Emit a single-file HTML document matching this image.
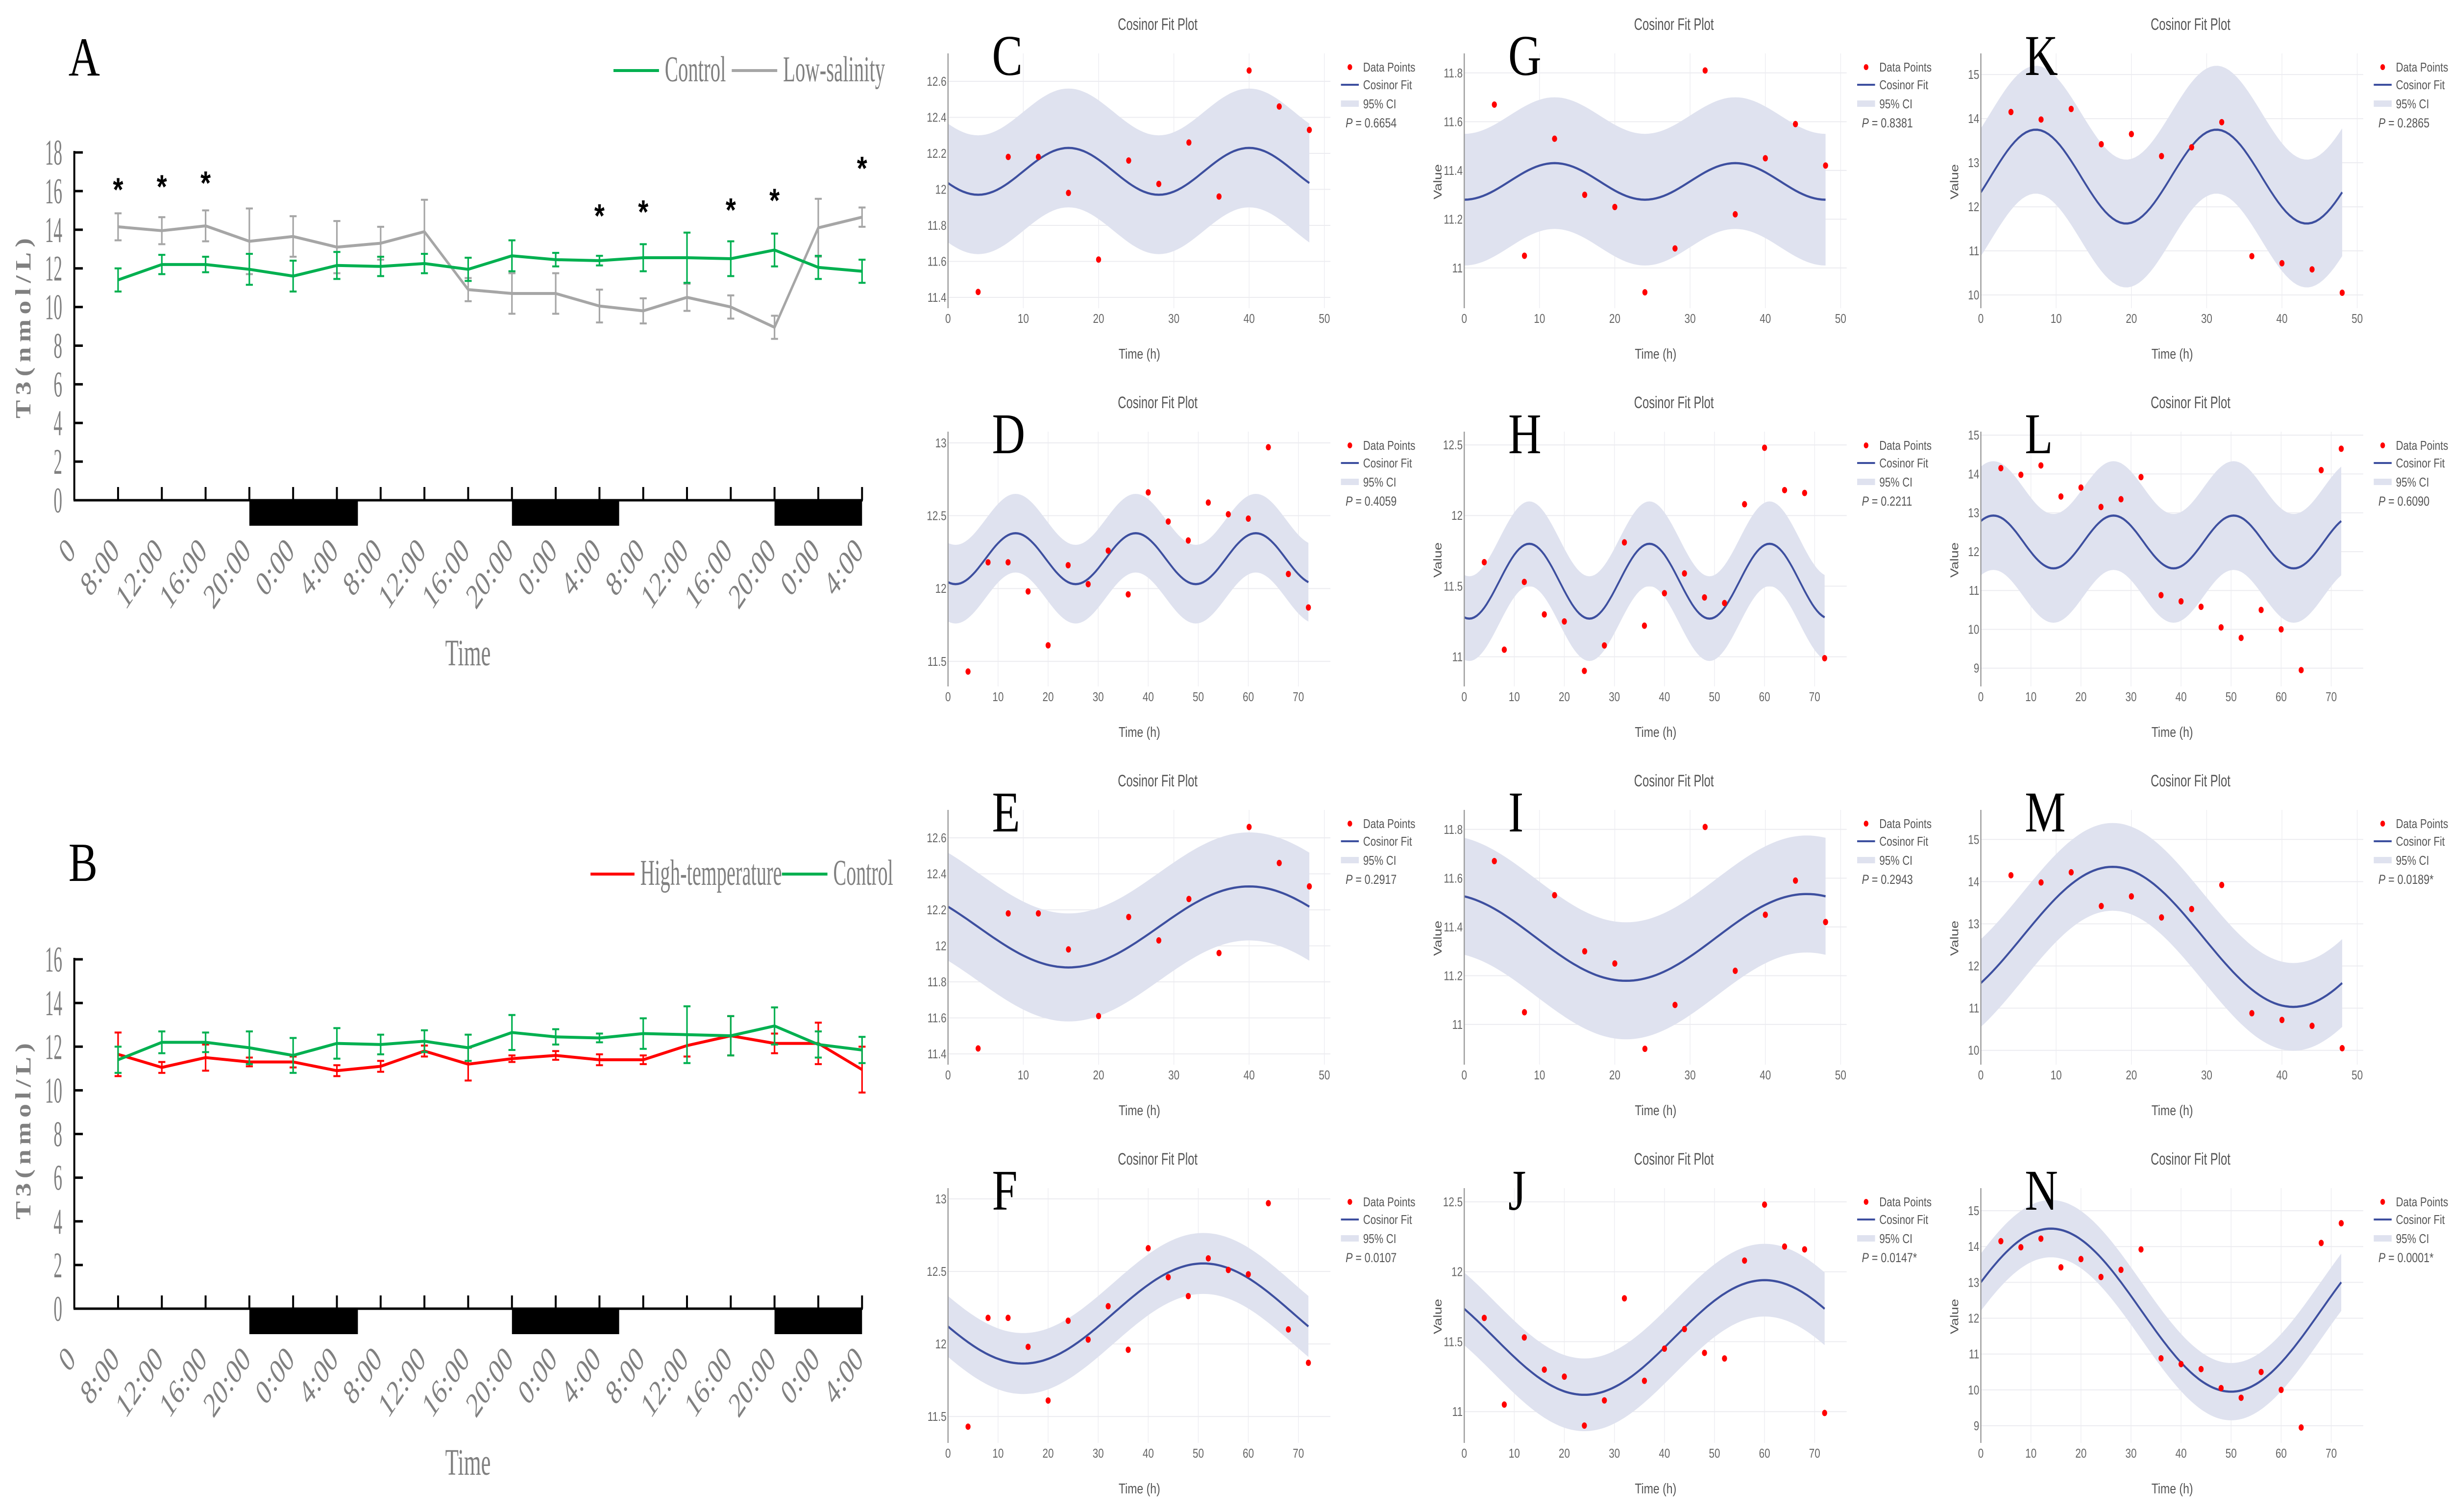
<!DOCTYPE html>
<html><head><meta charset="utf-8"><title>T3 rhythm figure</title>
<style>
html,body{margin:0;padding:0;background:#fff;overflow:hidden;width:100%;height:100%;}
svg{display:block;width:100vw;height:100vh;}
</style></head>
<body>
<svg id="fig" xmlns="http://www.w3.org/2000/svg" viewBox="0 0 6298 3086" preserveAspectRatio="none">
<rect x="0" y="0" width="6298" height="3086" fill="#fff"/>
</svg>
<script>
// ===== Panel A / B data =====
const timeLabels = ["0","8:00","12:00","16:00","20:00","0:00","4:00","8:00","12:00","16:00","20:00","0:00","4:00","8:00","12:00","16:00","20:00","0:00","4:00"];
const aControl = [11.4,12.2,12.2,11.95,11.6,12.15,12.1,12.25,11.95,12.65,12.45,12.4,12.55,12.55,12.5,12.95,12.05,11.85];
const aControlErr = [0.6,0.5,0.4,0.8,0.8,0.7,0.5,0.5,0.6,0.8,0.35,0.25,0.7,1.3,0.9,0.85,0.6,0.6];
const aLow = [14.15,13.95,14.2,13.4,13.65,13.1,13.3,13.9,10.9,10.7,10.7,10.05,9.8,10.5,10.0,8.95,14.1,14.65];
const aLowErr = [0.7,0.7,0.8,1.7,1.05,1.35,0.85,1.65,0.6,1.05,1.05,0.85,0.65,0.7,0.6,0.6,1.5,0.5];
const aStarIdx = [0,1,2,11,12,14,15,17];
const aStarY = [16.25,16.4,16.6,14.9,15.1,15.2,15.7,17.35];
const bHigh = [11.65,11.05,11.5,11.3,11.3,10.9,11.1,11.8,11.2,11.45,11.6,11.4,11.4,12.05,12.5,12.15,12.15,10.95];
const bHighErr = [1.0,0.25,0.6,0.2,0.25,0.25,0.25,0.25,0.75,0.15,0.2,0.25,0.2,0.5,0.9,0.45,0.95,1.05];
const bControl = [11.4,12.2,12.2,11.95,11.6,12.15,12.1,12.25,11.95,12.65,12.45,12.4,12.6,12.55,12.5,12.95,12.1,11.85];
const bControlErr = [0.6,0.5,0.45,0.75,0.8,0.7,0.45,0.5,0.6,0.8,0.35,0.2,0.7,1.3,0.9,0.85,0.6,0.6];
const nightStart = [4,10,16];
const nightEnd = [6.48,12.45,18];

// ===== Cosinor panel data =====
const t48 = [4,8,12,16,20,24,28,32,36,40,44,48];
const t72 = [4,8,12,16,20,24,28,32,36,40,44,48,52,56,60,64,68,72];
const cPoints = [11.43,12.18,12.18,11.98,11.61,12.16,12.03,12.26,11.96,12.66,12.46,12.33];
const dPoints = [11.43,12.18,12.18,11.98,11.61,12.16,12.03,12.26,11.96,12.66,12.46,12.33,12.59,12.51,12.48,12.97,12.10,11.87];
const ePoints = [11.43,12.18,12.18,11.98,11.61,12.16,12.03,12.26,11.96,12.66,12.46,12.33];
const fPoints = [11.43,12.18,12.18,11.98,11.61,12.16,12.03,12.26,11.96,12.66,12.46,12.33,12.59,12.51,12.48,12.97,12.10,11.87];
const gPoints = [11.67,11.05,11.53,11.30,11.25,10.90,11.08,11.81,11.22,11.45,11.59,11.42];
const hPoints = [11.67,11.05,11.53,11.30,11.25,10.90,11.08,11.81,11.22,11.45,11.59,11.42,11.38,12.08,12.48,12.18,12.16,10.99];
const iPoints = [11.67,11.05,11.53,11.30,11.25,10.90,11.08,11.81,11.22,11.45,11.59,11.42];
const jPoints = [11.67,11.05,11.53,11.30,11.25,10.90,11.08,11.81,11.22,11.45,11.59,11.42,11.38,12.08,12.48,12.18,12.16,10.99];
const kPoints = [14.15,13.98,14.22,13.42,13.65,13.15,13.35,13.92,10.88,10.72,10.58,10.05];
const lPoints = [14.15,13.98,14.22,13.42,13.65,13.15,13.35,13.92,10.88,10.72,10.58,10.05,9.78,10.50,10.00,8.95,14.10,14.65];
const mPoints = [14.15,13.98,14.22,13.42,13.65,13.15,13.35,13.92,10.88,10.72,10.58,10.05];
const nPoints = [14.15,13.98,14.22,13.42,13.65,13.15,13.35,13.92,10.88,10.72,10.58,10.05,9.78,10.50,10.00,8.95,14.10,14.65];
const panelIds = ["C","D","E","F","G","H","I","J","K","L","M","N"];
const panelPoints = [cPoints,dPoints,ePoints,fPoints,gPoints,hPoints,iPoints,jPoints,kPoints,lPoints,mPoints,nPoints];
const fitMesor = [12.1,12.205,12.105,12.21,11.355,11.535,11.357,11.53,12.685,12.25,12.69,12.225];
const fitAmp = [0.13,0.175,0.225,0.345,0.075,0.265,0.178,0.41,1.065,0.68,1.66,2.275];
const fitPeak = [16,13.5,40,51,12,13,45.5,60,7.3,2.5,17.5,14];
const fitPeriod = [24,24,48,72,24,24,48,72,24,24,48,72];
const ciHalf = [0.33,0.27,0.3,0.21,0.27,0.3,0.24,0.26,1.45,1.4,1.04,0.8];
const yMin = [11.34,11.328,11.34,11.318,10.835,10.79,10.835,10.776,9.7,8.53,9.66,8.52];
const yMax = [12.755,13.077,12.755,13.074,11.88,12.594,11.88,12.598,15.48,15.09,15.70,15.63];
const yTicksSmall = [11.4,11.6,11.8,12,12.2,12.4,12.6];
const yTicksHalf = [11.5,12,12.5,13];
const yTicksG = [11,11.2,11.4,11.6,11.8];
const yTicksH = [11,11.5,12,12.5];
const yTicksK = [10,11,12,13,14,15];
const yTicksL = [9,10,11,12,13,14,15];
const panelYTicks = [yTicksSmall,yTicksHalf,yTicksSmall,yTicksHalf,yTicksG,yTicksH,yTicksG,yTicksH,yTicksK,yTicksL,yTicksK,yTicksL];
const pValues = ["0.6654","0.4059","0.2917","0.0107","0.8381","0.2211","0.2943","0.0147*","0.2865","0.6090","0.0189*","0.0001*"];
const xTicks48 = [0,10,20,30,40,50];
const xTicks72 = [0,10,20,30,40,50,60,70];

const NS = "http://www.w3.org/2000/svg";
const svg = document.getElementById("fig");
function mk(tag, attrs, parent) {
  const e = document.createElementNS(NS, tag);
  for (const k in attrs) e.setAttribute(k, attrs[k]);
  (parent || svg).appendChild(e);
  return e;
}
function txt(str, attrs, parent) {
  const e = mk("text", attrs, parent);
  e.textContent = str;
  return e;
}
const SERIF = "'Liberation Serif', serif";
const SANS = "'Liberation Sans', sans-serif";

// ===== line-chart panels A & B =====
function linePanel(cfg) {
  const g = mk("g", {});
  
  
  const ax = 191, step = 112.5;
  const xOf = i => ax + i * step;
  const yOf = v => cfg.y0 - v * cfg.unit;
  const yTopV = cfg.ymax;
  let el = txt(cfg.letter, {x:176, y:cfg.letterY, "font-family":SERIF, "font-size":112, fill:"#000"}, g);
  
  
  for (let k = 0; k < nightStart.length; k++) {
    el = mk("rect", {x:xOf(nightStart[k]), y:cfg.y0 + 2, width:xOf(nightEnd[k]) - xOf(nightStart[k]), height:50, fill:"#000"}, g);
    
    
  }
  el = mk("line", {x1:ax, y1:yOf(yTopV) - 3, x2:ax, y2:cfg.y0, stroke:"#000", "stroke-width":5}, g);
  
  
  el = mk("line", {x1:ax - 2, y1:cfg.y0, x2:xOf(18) + 2, y2:cfg.y0, stroke:"#000", "stroke-width":5}, g);
  
  
  for (let v = 0; v <= yTopV; v += 2) {
    el = mk("line", {x1:ax, y1:yOf(v), x2:ax + 22, y2:yOf(v), stroke:"#000", "stroke-width":5}, g);
    
    
    el = txt(String(v), {transform:`translate(160,${yOf(v) + 25}) scale(0.6,1)`, "text-anchor":"end", "font-family":SERIF, "font-size":74, fill:"#808080"}, g);
    
    
  }
  for (let i = 0; i < timeLabels.length; i++) {
    if (i > 0) {
      el = mk("line", {x1:xOf(i), y1:cfg.y0, x2:xOf(i), y2:cfg.y0 - 27, stroke:"#000", "stroke-width":5}, g);
      
      
    }
    el = txt(timeLabels[i], {transform:`translate(${xOf(i) + 8},${cfg.y0 + 105}) rotate(-50)`, "text-anchor":"end", "font-family":SERIF, "font-style":"italic", "font-size":66, fill:"#808080"}, g);
    
    
  }
  el = txt("Time", {x:1203, y:cfg.timeY, "text-anchor":"middle", "font-family":SERIF, "font-size":76, fill:"#808080", textLength:117, lengthAdjust:"spacingAndGlyphs"}, g);
  
  
  el = txt("T3(nmol/L)", {transform:`translate(78,${cfg.titleCY}) rotate(-90)`, "text-anchor":"middle", "font-family":SERIF, "font-weight":"bold", "font-size":56, fill:"#808080", textLength:cfg.titleLen, lengthAdjust:"spacing"}, g);
  
  
  for (const s of cfg.series) {
    const sg = mk("g", {}, g);
    
    
    for (let i = 0; i < s.vals.length; i++) {
      const x = xOf(i + 1), hi = yOf(s.vals[i] + s.err[i]), lo = yOf(s.vals[i] - s.err[i]);
      el = mk("path", {d:`M${x},${hi}V${lo}M${x - 9},${hi}H${x + 9}M${x - 9},${lo}H${x + 9}`, stroke:s.color, "stroke-width":4, fill:"none"}, sg);
      
      
    }
    const pts = s.vals.map((v, i) => `${xOf(i + 1)},${yOf(v)}`).join(" ");
    el = mk("polyline", {points:pts, fill:"none", stroke:s.color, "stroke-width":6, "stroke-linejoin":"round"}, sg);
    
    
  }
  for (const L of cfg.legend) {
    el = mk("line", {x1:L.x1, y1:cfg.legY, x2:L.x2, y2:cfg.legY, stroke:L.color, "stroke-width":6}, g);
    
    
    el = txt(L.label, {x:L.tx, y:cfg.legY + 22, "font-family":SERIF, "font-size":74, fill:"#808080", textLength:L.len, lengthAdjust:"spacingAndGlyphs"}, g);
    
    
  }
  if (cfg.stars) {
    for (let k = 0; k < cfg.stars.idx.length; k++) {
      el = txt("*", {x:xOf(cfg.stars.idx[k] + 1), y:yOf(cfg.stars.val[k]) + 30, "text-anchor":"middle", "font-family":SANS, "font-size":68, "font-weight":"bold", fill:"#000"}, g);
      
      
    }
  }
}

linePanel({name:"panel-a", letter:"A", letterY:154, y0:1021, unit:39.44, ymax:18, timeY:1358, titleCY:670, titleLen:368, legY:144,
  series:[{name:"low-salinity-series", vals:aLow, err:aLowErr, color:"#a6a6a6"},{name:"control-series", vals:aControl, err:aControlErr, color:"#00b050"}],
  legend:[{label:"Control", color:"#00b050", x1:1577, x2:1694, tx:1709, len:157},{label:"Low-salinity", color:"#a6a6a6", x1:1881, x2:1998, tx:2013, len:262}],
  stars:{idx:aStarIdx, val:aStarY}});
linePanel({name:"panel-b", letter:"B", letterY:1798, y0:2671, unit:44.56, ymax:16, timeY:3010, titleCY:2309, titleLen:360, legY:1784,
  series:[{name:"high-temperature-series", vals:bHigh, err:bHighErr, color:"#ff0000"},{name:"control-series", vals:bControl, err:bControlErr, color:"#00b050"}],
  legend:[{label:"High-temperature", color:"#ff0000", x1:1518, x2:1631, tx:1646, len:364},{label:"Control", color:"#00b050", x1:2010, x2:2127, tx:2142, len:154}]});

// ===== cosinor panels =====
const colX = [2437, 3764, 5092];
for (let p = 0; p < panelIds.length; p++) {
  const c = Math.floor(p / 4), r = p % 4;
  const ox = colX[c], ty = 49 + 772 * r;
  const pts = panelPoints[p];
  const times = pts.length > 12 ? t72 : t48;
  const xmax = pts.length > 12 ? 76.4 : 50.8;
  const tEnd = times[times.length - 1];
  const top = ty + 60, bot = ty + 580, pw = 983;
  const xs = t => ox + t * pw / xmax;
  const ys = v => bot - (v - yMin[p]) / (yMax[p] - yMin[p]) * (bot - top);
  const fit = t => fitMesor[p] + fitAmp[p] * Math.cos(2 * Math.PI * (t - fitPeak[p]) / fitPeriod[p]);
  const g = mk("g", {});
  
  
  let el;
  const xt = pts.length > 12 ? xTicks72 : xTicks48;
  for (const v of xt) {
    if (v > 0) {
      el = mk("line", {x1:xs(v), y1:top, x2:xs(v), y2:bot, stroke:"#efeff3", "stroke-width":2}, g);
      
      
    }
    el = txt(String(v), {x:xs(v), y:ty + 610, "text-anchor":"middle", "font-family":SANS, "font-size":26, fill:"#666"}, g);
    
    
  }
  for (const v of panelYTicks[p]) {
    el = mk("line", {x1:ox, y1:ys(v), x2:ox + pw, y2:ys(v), stroke:"#ececf0", "stroke-width":2}, g);
    
    
    el = txt(String(v), {x:ox - 4, y:ys(v) + 9, "text-anchor":"end", "font-family":SANS, "font-size":26, fill:"#666"}, g);
    
    
  }
  let up = [], lo = [];
  for (let t = 0; t <= tEnd + 0.001; t += 0.5) {
    up.push(`${xs(t).toFixed(1)},${ys(fit(t) + ciHalf[p]).toFixed(1)}`);
    lo.push(`${xs(t).toFixed(1)},${ys(fit(t) - ciHalf[p]).toFixed(1)}`);
  }
  el = mk("polygon", {points:up.concat(lo.reverse()).join(" "), fill:"#dfe2ef"}, g);
  
  
  let cv = [];
  for (let t = 0; t <= tEnd + 0.001; t += 0.5) cv.push(`${xs(t).toFixed(1)},${ys(fit(t)).toFixed(1)}`);
  el = mk("polyline", {points:cv.join(" "), fill:"none", stroke:"#3d4f9f", "stroke-width":4.5}, g);
  
  
  el = mk("line", {x1:ox, y1:top, x2:ox, y2:bot, stroke:"#999", "stroke-width":3}, g);
  
  
  for (let i = 0; i < pts.length; i++) {
    el = mk("circle", {cx:xs(times[i]), cy:ys(pts[i]), r:6.5, fill:"#ff0000"}, g);
    
    
  }
  el = txt("Cosinor Fit Plot", {x:ox + 539, y:ty + 12, "text-anchor":"middle", "font-family":SANS, "font-size":34, fill:"#555", textLength:205, lengthAdjust:"spacingAndGlyphs"}, g);
  
  
  el = txt("Time (h)", {x:ox + 492, y:ty + 683, "text-anchor":"middle", "font-family":SANS, "font-size":29, fill:"#555"}, g);
  
  
  if (c > 0) {
    el = txt("Value", {transform:`translate(${ox - 58},${ty + 322}) rotate(-90)`, "text-anchor":"middle", "font-family":SANS, "font-size":29, fill:"#555"}, g);
    
    
  }
  el = txt(panelIds[p], {x:ox + 113, y:ty + 104, "font-family":SERIF, "font-size":118, fill:"#000"}, g);
  
  
  const lg = mk("g", {}, g);
  
  
  el = mk("circle", {cx:ox + 1033, cy:ty + 88, r:6, fill:"#ff0000"}, lg);
  
  
  el = txt("Data Points", {x:ox + 1067, y:ty + 97, "font-family":SANS, "font-size":26, fill:"#555"}, lg);
  
  
  el = mk("line", {x1:ox + 1010, y1:ty + 124, x2:ox + 1056, y2:ty + 124, stroke:"#3d4f9f", "stroke-width":4}, lg);
  
  
  el = txt("Cosinor Fit", {x:ox + 1067, y:ty + 133, "font-family":SANS, "font-size":26, fill:"#555"}, lg);
  
  
  el = mk("rect", {x:ox + 1010, y:ty + 156, width:46, height:13, fill:"#dfe2ef"}, lg);
  
  
  el = txt("95% CI", {x:ox + 1067, y:ty + 172, "font-family":SANS, "font-size":26, fill:"#555"}, lg);
  
  
  el = txt("", {x:ox + 1022, y:ty + 211, "font-family":SANS, "font-size":27, fill:"#555"}, lg);
  
  
  const ps = document.createElementNS(NS, "tspan");
  ps.setAttribute("font-style", "italic");
  ps.textContent = "P";
  el.appendChild(ps);
  const pv = document.createElementNS(NS, "tspan");
  pv.textContent = " = " + pValues[p];
  el.appendChild(pv);
}
</script>
</body></html>
